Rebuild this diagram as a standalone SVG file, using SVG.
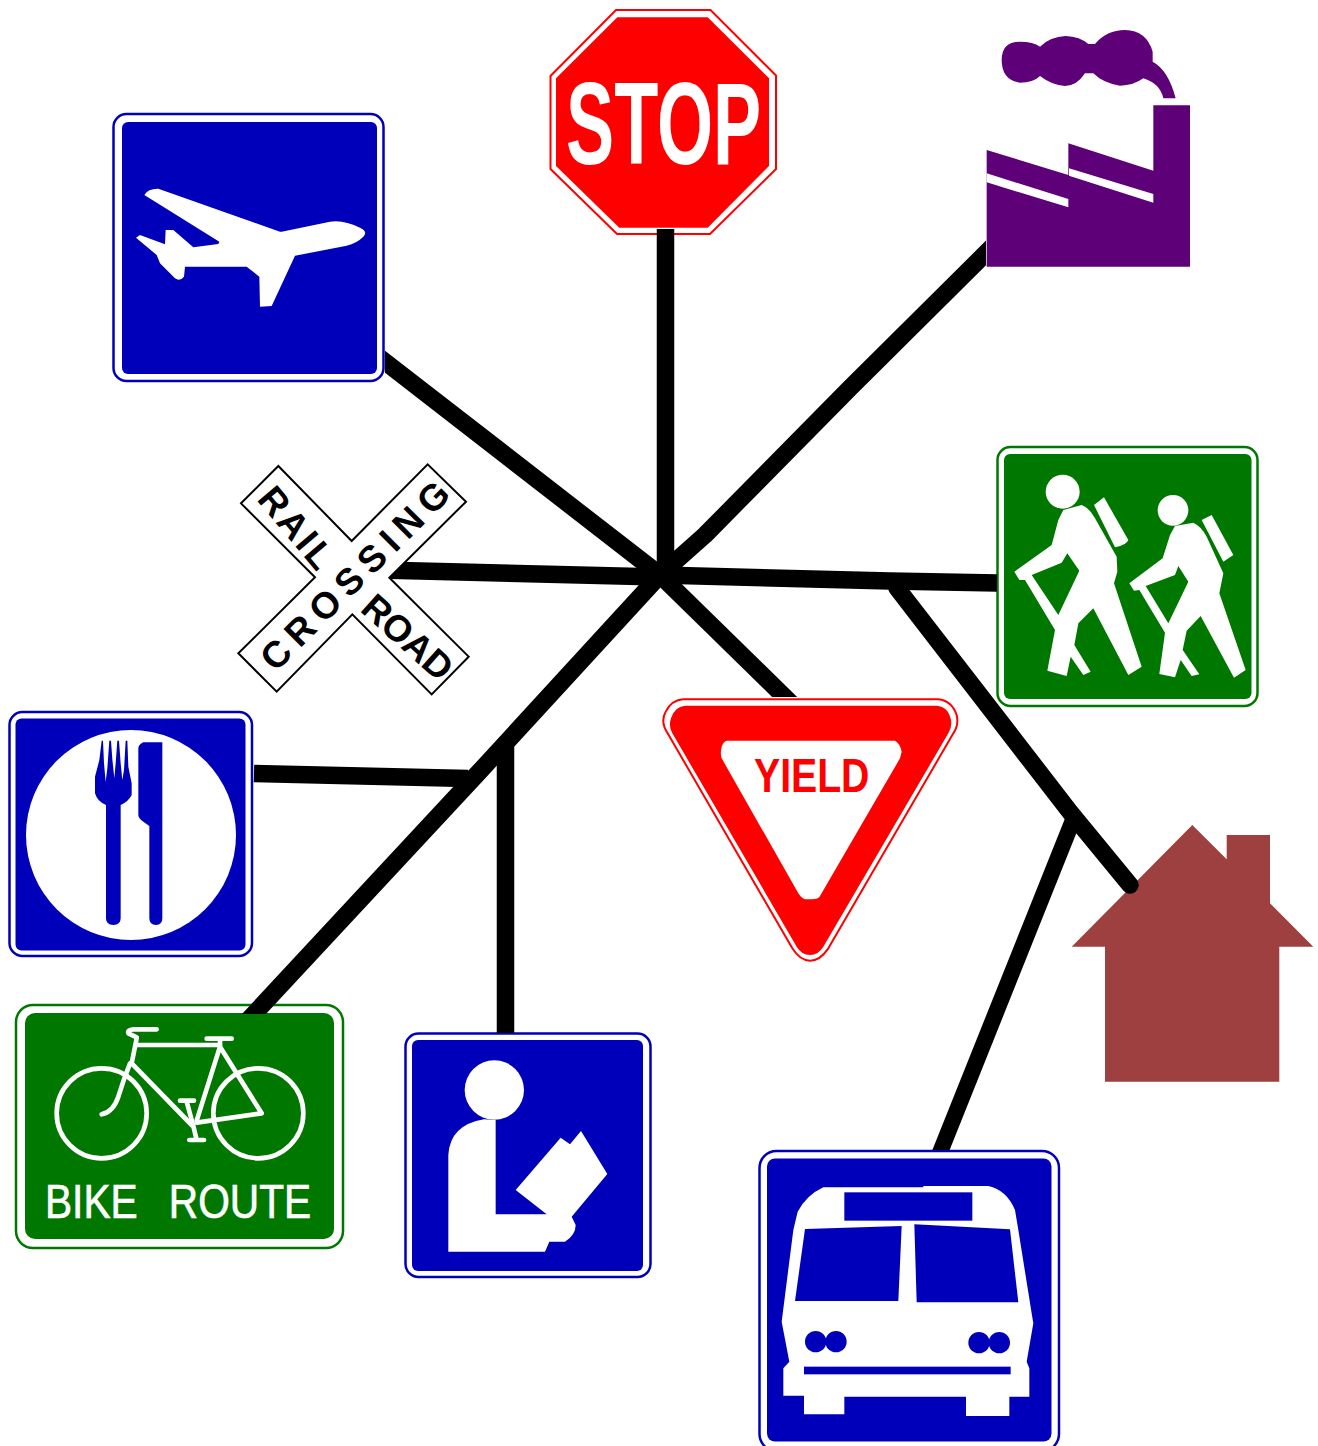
<svg xmlns="http://www.w3.org/2000/svg" width="1318" height="1446" viewBox="0 0 1318 1446">
<style>
.sans{font-family:"Liberation Sans",Arial,sans-serif}
.bold{font-weight:700}
.ln{fill:none;stroke:#000;stroke-linejoin:round;stroke-width:17.500}
.w{fill:#fff}
.blueF{fill:#fff;stroke:#0000bb;stroke-width:2.500}
.greenF{fill:#fff;stroke:#007800;stroke-width:2.500}
.blue{fill:#0000bb}
.green{fill:#007800}
.bk{fill:none;stroke:#fff;stroke-width:14;stroke-linecap:round;stroke-linejoin:round}
.xt{font-size:37px;fill:#000}
</style>
<defs>
<clipPath id="cBike"><rect x="0" y="0" width="1318" height="1014"/></clipPath>
<clipPath id="cYield"><rect x="0" y="0" width="1318" height="697"/></clipPath>
<clipPath id="cBus"><rect x="0" y="0" width="1318" height="1150"/></clipPath>
<clipPath id="cFactory"><rect x="0" y="0" width="986" height="1446"/></clipPath>
<clipPath id="cPlane"><rect x="385" y="0" width="933" height="1446"/></clipPath>
</defs>

<g id="airport">
<rect class="blueF" x="113.500" y="114" width="270" height="267" rx="13"/>
<rect class="blue" x="122" y="122" width="255" height="252" rx="6"/>
<path class="w" transform="translate(100 100) scale(.33333)" d="M133 285Q145 265 175 266L540 395L545 395L690 365Q730 358 780 383Q805 395 790 410Q770 430 740 437L585 467L515 618L480 620L478 530L440 500L255 500L252 530Q240 545 225 535L180 490L170 465L108 413L120 405L195 433L197 390L220 390L280 442L355 432L358 425Z"/>
</g>
<g id="stop">
<path fill="#fff" stroke="#f00" stroke-width="2" d="M616 10H710.500L776 75.500V169L710 234H617L550.500 169V76Z"/>
<path fill="#f00" d="M617.300 17.300H707.700L769 78.300V166L707.700 227.700H619.300L556 166V78.300Z"/>
<text class="sans bold" fill="#fff" font-size="117" transform="translate(566 164) scale(.617 1)">STOP</text>
</g>
<g id="factory">
<g transform="translate(970 20) scale(.33333)" fill="#5e0078">
<path d="M50 390L295 465V370L550 452V256H660V740H50Z"/>
<path class="w" d="M50 460L295 537V562L50 487ZM297 445L550 522V548L297 467Z"/>
<path d="M95 120Q95 65 150 65Q190 65 210 80Q240 50 287 48Q330 50 355 72H375Q410 30 465 30Q530 32 548 95V125Q595 150 617 235H580Q570 190 520 175Q490 197 450 197Q400 190 370 160H345Q320 198 285 198Q245 195 210 168Q190 188 150 188Q95 180 95 120Z"/>
</g>
</g>
<g id="hikers">
<rect class="greenF" x="997.500" y="447" width="260" height="259" rx="13"/>
<rect class="green" x="1004" y="454" width="247.500" height="245" rx="6"/>
<g class="w" transform="translate(980 440) scale(.33333)" fill-rule="evenodd">
<circle cx="248" cy="155" r="51"/><circle cx="579" cy="211" r="46"/>
<path d="M342 195L372 172L445 300Q440 315 405 322Z"/>
<path d="M665 240L695 225L760 345L730 365Z"/>
<path d="M250 210L305 195Q330 205 345 235L410 350L412 395L402 430L485 680L445 705L340 505L295 550L283 615L332 695L310 705L272 650L260 708L202 692L225 570L135 420L118 420L103 395L215 315L235 240ZM262 340L298 392L235 525L155 405L245 368Z"/>
<path d="M585 258L640 248Q665 260 680 290L730 400L718 460L797 690L762 713L662 528L620 572L608 630L658 703L635 708L602 660L585 712L538 702L555 578L478 450L462 452L448 430L548 355L570 285ZM595 378L625 425L565 550L497 438L585 405Z"/>
</g>
</g>
<g id="yield">
<g transform="translate(655 690) scale(.33333)">
<path fill="#fff" stroke="#f00" stroke-width="6" d="M85 28H850Q890 32 905 75Q912 105 895 130L520 775Q495 812 465 812Q435 812 412 775L38 130Q15 95 32 65Q50 30 85 28Z"/>
<path fill="#f00" d="M90 47H845Q880 50 888 90Q892 110 880 130L505 770Q490 795 465 795Q440 795 425 770L52 130Q40 110 48 85Q58 50 90 47Z"/>
<path class="w" d="M215 152H720Q735 160 740 185L735 205L495 618Q490 628 470 628H450Q440 625 430 610L200 205Q195 190 200 170Q205 155 215 152Z"/>
</g>
<text class="sans bold" fill="#f00" font-size="49" transform="translate(754 791.500) scale(.8 1)">YIELD</text>
</g>
<g id="house">
<path fill="#9e4040" d="M1192.300 825L1226.700 859.300V835H1270V903.300L1313.300 946.700H1279.300V1081.700H1105V946.700H1071.700Z"/>
</g>
<g id="food">
<rect class="blueF" x="9.500" y="712" width="242.500" height="244" rx="13"/>
<rect class="blue" x="15.500" y="718.500" width="230" height="232" rx="6"/>
<g transform="translate(0 700) scale(.33333)">
<circle class="w" cx="393" cy="405" r="315"/>
<path class="blue" d="M305 122H309L312 190L317 245L322 205L328 122H333L337 178L343 235L347 190L352 122H357L362 190L367 240L372 210L377 122H382L385 200L395 250V285Q385 305 362 315V655Q362 675 340 675Q318 675 318 655V315Q292 305 285 280V230L298 180Z"/>
<path class="blue" d="M430 127H487V655Q487 675 468 675Q448 675 448 655V378L430 365Q415 355 415 345V145Q415 135 430 127Z"/>
</g>
</g>
<g id="bike">
<rect class="greenF" x="16" y="1005" width="327" height="243" rx="17"/>
<rect class="green" x="25" y="1013" width="309" height="226" rx="10"/>
<g class="bk" transform="translate(0 1000) scale(.33333)">
<circle cx="305" cy="340" r="135"/><circle cx="775" cy="340" r="135"/>
<path d="M470 88H400Q382 90 385 100L410 112"/>
<path d="M620 116H695"/>
<path d="M410 115L395 190L575 375"/>
<path d="M410 135H660"/>
<path d="M660 120V140L590 362M660 140L785 340L590 368"/>
<path d="M390 190Q370 240 355 290Q340 335 305 343"/>
<path d="M540 302H582M560 305L580 378L590 420M568 420H612"/>
</g>
<text class="sans" fill="#fff" stroke="#fff" stroke-width=".7" font-size="49" word-spacing="24" transform="translate(45 1218) scale(.83 1)">BIKE ROUTE</text>
</g>
<g id="library">
<rect class="blueF" x="405.500" y="1033.500" width="245" height="243.500" rx="13"/>
<rect class="blue" x="412" y="1040" width="231" height="231" rx="6"/>
<g class="w" transform="translate(400 1025) scale(.33333)">
<circle cx="283" cy="195" r="89"/>
<path d="M252 283Q150 300 145 390V680H435L448 650H495Q527 630 527 600L515 575L622 447L543 318L510 358L482 338L347 495L440 568H287V285Z"/>
</g>
</g>
<g id="bus">
<rect class="blueF" x="759.500" y="1151" width="299.500" height="300" rx="17"/>
<rect class="blue" x="767" y="1158.500" width="284.500" height="283" rx="8"/>
<g transform="translate(750 1140) scale(.33333)">
<path class="w" d="M220 142H520V138H715Q770 150 795 210L805 270L845 520L850 550L830 665L838 685V770H778V828H648V770H283V823H162V767H100V685L118 665L95 545L130 270L143 215Q170 165 220 142Z"/>
<g class="blue">
<rect x="283" y="157" width="384" height="85"/>
<path d="M165 267L455 258L445 483H135Z"/>
<path d="M493 253L780 268L805 487H500Z"/>
<circle cx="197" cy="605" r="32"/><circle cx="258" cy="605" r="32"/>
<circle cx="687" cy="608" r="32"/><circle cx="748" cy="608" r="32"/>
<rect x="162" y="680" width="620" height="23"/>
</g>
</g>
</g>

<g id="connectors">
<path class="ln" clip-path="url(#cPlane)" d="M375 354L660 575"/>
<path class="ln" d="M665.500 229V575"/>
<path class="ln" clip-path="url(#cFactory)" d="M996 243L850 388L705 535L660 575"/>
<path class="ln" d="M997 583L890 581L660 575"/>
<path class="ln" stroke-linecap="round" d="M897 588L1070 812L1130 885"/>
<path class="ln" style="stroke-width:16" clip-path="url(#cBus)" d="M1073 820L935 1165"/>
<path class="ln" clip-path="url(#cYield)" d="M660 575L800 712"/>
<path class="ln" d="M380 570L660 577"/>
<path class="ln" clip-path="url(#cBike)" d="M660 575L480 771L240 1029"/>
<path class="ln" d="M505.500 745V1033"/>
<path class="ln" d="M254 773.500L468 778.500"/>
</g>

<g id="crossing">
<g transform="translate(230 455) scale(.33333)">
<path fill="#fff" stroke="#000" stroke-width="6" stroke-linejoin="miter" d="M145 33L365 258L593 28L708 140L478 368L716 605L605 718L367 478L140 710L25 595L255 367L33 145Z"/>
</g>
<text class="sans bold xt" transform="translate(256 499.500) rotate(50)" textLength="95">RAIL</text>
<text class="sans bold xt" transform="translate(359 610.500) rotate(42)" textLength="108">ROAD</text>
<text class="sans bold xt" transform="translate(275.500 673) rotate(-45)" textLength="250">CROSSING</text>
</g>
</svg>
